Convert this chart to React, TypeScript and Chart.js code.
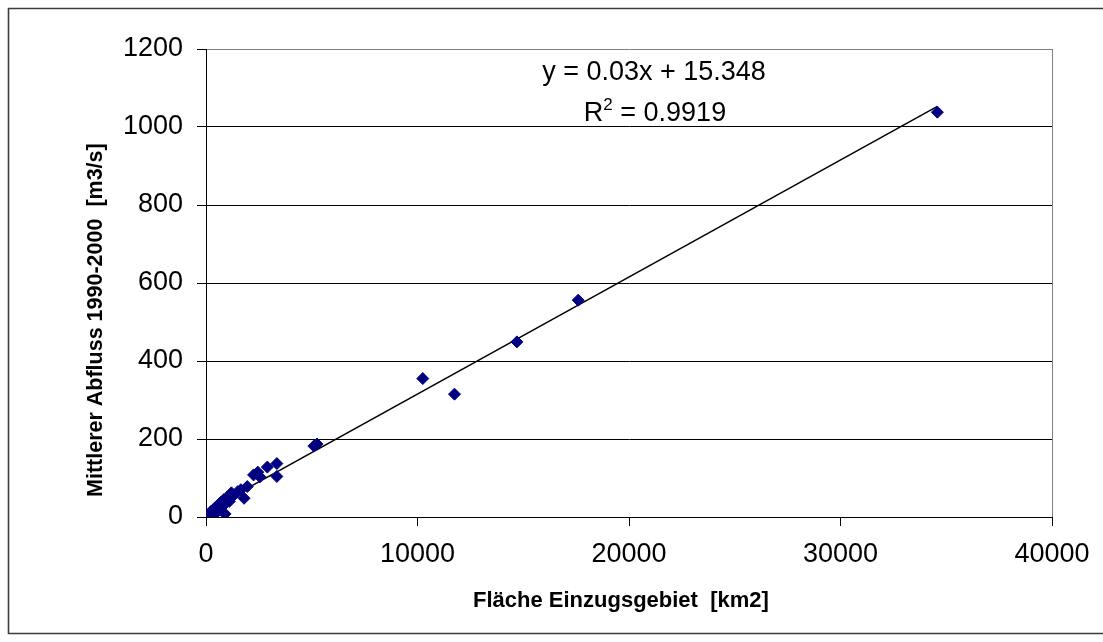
import React, { useEffect, useRef } from "react";
import { Chart, registerables } from "chart.js";

Chart.register(...registerables);

// Catchment area [km2]
const areaKm2 = [
  50, 150, 250, 350, 450, 500, 600, 650, 700, 800, 850, 900, 1000, 1100, 1200,
  1300, 1500, 1650, 1800, 1950, 2250, 2450, 2550, 2900, 3350, 3350, 5100, 5250,
  10250, 11750, 14700, 17600, 34580,
];
// Mean discharge 1990-2000 [m3/s]
const dischargeM3s = [
  5, 8, 15, 3, 25, 12, 32, 18, 38, 28, 45, 8, 50, 40, 62,
  55, 65, 70, 48, 78, 108, 115, 103, 128, 137, 104, 182, 187,
  355, 315, 449, 556, 1038,
];

const trendSlope = 0.03;
const trendIntercept = 15.348;
const trendX = [0, 34580];

const xTicks = [0, 10000, 20000, 30000, 40000];
const yTicks = [0, 200, 400, 600, 800, 1000, 1200];

const xTitle = "Fläche Einzugsgebiet  [km2]";
const yTitle = "Mittlerer Abfluss 1990-2000  [m3/s]";
const eqText = "y = 0.03x + 15.348";
const r2Value = " = 0.9919";

const FONT = "'Liberation Sans', Arial, sans-serif";

const overlayPlugin = {
  id: "overlay",
  afterDraw(chart: any) {
    const { ctx, chartArea } = chart;
    ctx.save();
    // plot area right border (gray)
    ctx.strokeStyle = "#808080";
    ctx.lineWidth = 1;
    ctx.beginPath();
    ctx.moveTo(Math.round(chartArea.right) + 0.5, chartArea.top);
    ctx.lineTo(Math.round(chartArea.right) + 0.5, chartArea.bottom);
    ctx.stroke();

    // outer chart border
    ctx.strokeStyle = "#3c3c3c";
    ctx.lineWidth = 1.6;
    ctx.beginPath();
    ctx.moveTo(1110, 8.5);
    ctx.lineTo(8.5, 8.5);
    ctx.lineTo(8.5, 633.5);
    ctx.lineTo(1110, 633.5);
    ctx.stroke();

    // axis titles
    ctx.fillStyle = "#000";
    ctx.textBaseline = "alphabetic";
    ctx.textAlign = "left";
    ctx.font = `bold 22px ${FONT}`;
    ctx.fillText(xTitle, 473, 607);

    ctx.save();
    ctx.font = `bold 21.5px ${FONT}`;
    ctx.translate(102, 497);
    ctx.rotate(-Math.PI / 2);
    ctx.fillText(yTitle, 0, 0);
    ctx.restore();

    // regression equation
    ctx.font = `27px ${FONT}`;
    ctx.textAlign = "center";
    ctx.fillText(eqText, 654, 80);

    ctx.textAlign = "left";
    ctx.font = `27px ${FONT}`;
    const wR = ctx.measureText("R").width;
    const wRest = ctx.measureText(r2Value).width;
    ctx.font = `17px ${FONT}`;
    const w2 = ctx.measureText("2").width;
    const total = wR + w2 + wRest;
    let x0 = 655 - total / 2;
    ctx.font = `27px ${FONT}`;
    ctx.fillText("R", x0, 120.7);
    x0 += wR;
    ctx.font = `17px ${FONT}`;
    ctx.fillText("2", x0, 110);
    x0 += w2;
    ctx.font = `27px ${FONT}`;
    ctx.fillText(r2Value, x0, 120.7);
    ctx.restore();
  },
};

export default function App() {
  const ref = useRef<HTMLCanvasElement | null>(null);

  useEffect(() => {
    if (!ref.current) return;
    const points = areaKm2.map((x, i) => ({ x, y: dischargeM3s[i] }));
    const trend = trendX.map((x) => ({ x, y: trendSlope * x + trendIntercept }));
    const chart = new Chart(ref.current, {
      type: "scatter",
      data: {
        datasets: [
          {
            type: "line",
            data: trend,
            borderColor: "#000",
            borderWidth: 1.5,
            pointRadius: 0,
            fill: false,
            order: 2,
          } as any,
          {
            data: points,
            pointStyle: "rectRot",
            pointRadius: 6,
            pointBorderWidth: 1,
            backgroundColor: "#000080",
            borderColor: "#000080",
            order: 1,
          },
        ],
      },
      options: {
        animation: false,
        responsive: false,
        layout: { padding: { left: 0, top: 49, right: 51, bottom: 0 } },
        plugins: {
          legend: { display: false },
          tooltip: { enabled: false },
          title: { display: false },
        },
        scales: {
          x: {
            type: "linear",
            min: 0,
            max: 40000,
            afterBuildTicks: (s: any) => {
              s.ticks = xTicks.map((v) => ({ value: v }));
            },
            afterFit: (s: any) => {
              s.height = 125;
            },
            ticks: {
              color: "#000",
              font: { family: FONT, size: 27 },
              padding: 12,
              maxRotation: 0,
              callback: (v: any) => String(v),
            },
            grid: {
              drawOnChartArea: false,
              drawTicks: true,
              tickLength: 9,
              tickColor: "#000",
              color: "#000",
            },
            border: { color: "#000", width: 1 },
          },
          y: {
            type: "linear",
            min: 0,
            max: 1200,
            afterBuildTicks: (s: any) => {
              s.ticks = yTicks.map((v) => ({ value: v }));
            },
            afterFit: (s: any) => {
              s.width = 206;
            },
            ticks: {
              color: "#000",
              font: { family: FONT, size: 27 },
              padding: 14,
              callback: (v: any) => String(v),
            },
            grid: {
              drawOnChartArea: true,
              drawTicks: true,
              tickLength: 9,
              tickColor: "#000",
              color: (c: any) => (c.tick && c.tick.value === 1200 ? "#808080" : "#000"),
              lineWidth: 1,
            },
            border: { color: "#000", width: 1 },
          },
        },
      },
      plugins: [overlayPlugin],
    });
    return () => chart.destroy();
  }, []);

  return (
    <div style={{ position: "fixed", left: 0, top: 0, width: 1103, height: 642, background: "#fff" }}>
      <canvas ref={ref} width={1103} height={642} style={{ display: "block" }} />
    </div>
  );
}
